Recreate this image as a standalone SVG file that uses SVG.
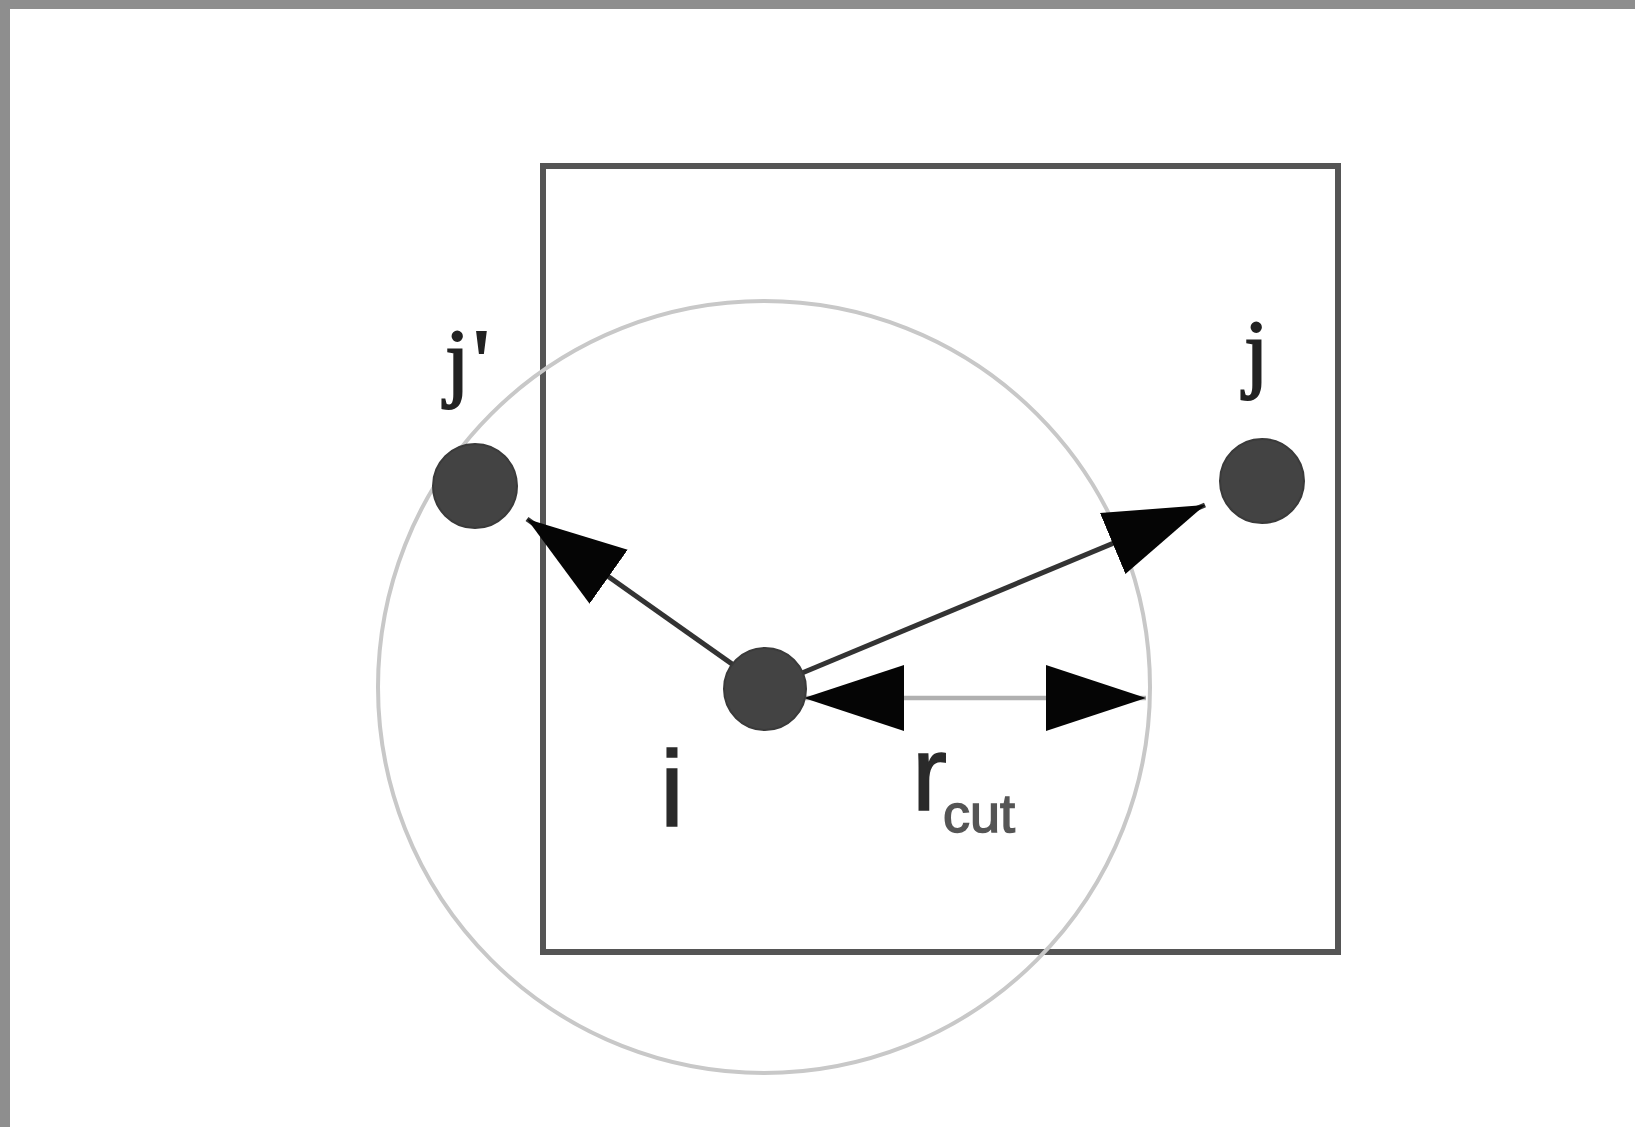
<svg xmlns="http://www.w3.org/2000/svg" width="1635" height="1127" viewBox="0 0 1635 1127">
  <style>
    .node { fill: #434343; stroke: #3a3a3a; stroke-width: 2; }
    .ptr { stroke: #333333; stroke-width: 5; fill: none; }
    .cut { stroke: #b0b0b0; stroke-width: 4.5; fill: none; }
    .serif { font-family: "Liberation Serif", "Times New Roman", serif; fill: #222; stroke: #222; stroke-width: 2; }
    .sans { font-family: "Liberation Sans", Arial, sans-serif; fill: #2a2a2a; }
  </style>
  <defs>
    <marker id="arrow" viewBox="0 -35 100 70" refX="100" refY="0" markerWidth="100" markerHeight="70" markerUnits="userSpaceOnUse" orient="auto-start-reverse">
      <path d="M0,-33 L100,0 L0,33 Z" fill="#050505"/>
    </marker>
  </defs>
  <rect x="0" y="0" width="1635" height="1127" fill="#8e8e8e"/>
  <rect x="10" y="9" width="1625" height="1118" fill="#ffffff"/>

  <g id="cell">
    <rect x="543" y="166" width="795" height="786" fill="none" stroke="#555555" stroke-width="6"/>
  </g>
  <g id="cutoff-circle">
    <circle cx="764" cy="687" r="386" fill="none" stroke="#c8c8c8" stroke-width="4"/>
  </g>

  <g id="connectors">
    <line class="ptr" x1="766" y1="688" x2="527" y2="519" marker-end="url(#arrow)"/>
    <line class="ptr" x1="766" y1="688" x2="1205" y2="505" marker-end="url(#arrow)"/>
    <line class="cut" x1="804" y1="698" x2="1146" y2="698" marker-start="url(#arrow)" marker-end="url(#arrow)"/>
  </g>

  <g id="node-i">
    <circle class="node" cx="765" cy="689" r="41"/>
    <text class="sans" x="660" y="826" font-size="108" stroke="#2a2a2a" stroke-width="1.5">i</text>
  </g>
  <g id="node-j-prime">
    <circle class="node" cx="475" cy="486" r="42"/>
    <text class="serif" x="445" y="390" font-size="88">j<tspan dx="4">'</tspan></text>
  </g>
  <g id="node-j">
    <circle class="node" cx="1262" cy="481" r="42"/>
    <text class="serif" x="1244" y="381" font-size="88">j</text>
  </g>
  <g id="label-rcut">
    <text class="sans" x="912" y="810" font-size="105" stroke="#2a2a2a" stroke-width="1.5">r<tspan font-size="54" dy="22" dx="-4" fill="#555" stroke="#555">cut</tspan></text>
  </g>
</svg>
